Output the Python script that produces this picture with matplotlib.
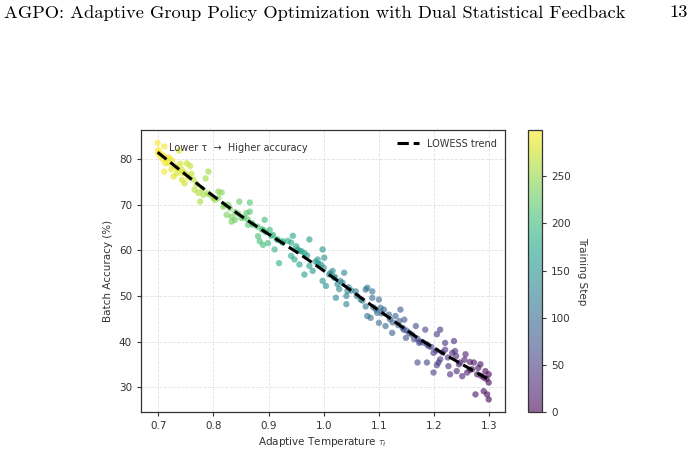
import numpy as np
import matplotlib
matplotlib.use("Agg")
import matplotlib.pyplot as plt

# training step, adaptive temperature tau_t, batch accuracy (%)
step = [0, 1, 1, 2, 2, 3, 5, 5, 7, 8, 10, 11, 12, 14, 15, 17, 17, 20, 21, 22,
        24, 26, 27, 29, 30, 31, 32, 33, 35, 37, 37, 40, 40, 42, 44, 44, 46, 47, 47, 48,
        50, 50, 52, 55, 56, 56, 58, 60, 62, 63, 65, 65, 66, 68, 70, 72, 75, 75, 77, 77,
        78, 80, 81, 82, 85, 87, 88, 90, 91, 94, 95, 97, 98, 100, 100, 101, 102, 105, 106, 106,
        107, 110, 110, 112, 112, 115, 116, 120, 121, 125, 127, 128, 129, 129, 131, 133, 135, 136, 137, 139,
        140, 140, 142, 144, 145, 147, 149, 150, 150, 150, 152, 154, 155, 157, 159, 162, 162, 164, 167, 167,
        169, 171, 171, 173, 174, 176, 177, 179, 179, 182, 186, 187, 190, 191, 192, 194, 195, 197, 198, 200,
        202, 203, 204, 204, 205, 207, 209, 209, 213, 214, 216, 216, 218, 218, 219, 222, 224, 226, 227, 229,
        230, 233, 233, 234, 236, 237, 239, 240, 242, 245, 245, 248, 249, 252, 254, 254, 256, 258, 259, 261,
        263, 264, 266, 267, 269, 270, 272, 273, 275, 275, 277, 278, 278, 279, 280, 282, 282, 284, 285, 287,
        287, 289, 290, 292, 293, 294, 294, 294, 295, 297, 298, 299, 299, 299]

tau = [1.299, 1.299, 1.299, 1.296, 1.295, 1.293, 1.290, 1.290, 1.285, 1.284, 1.280, 1.278, 1.275, 1.272, 1.269, 1.265, 1.265, 1.260, 1.257, 1.255,
       1.251, 1.247, 1.245, 1.241, 1.240, 1.238, 1.236, 1.233, 1.229, 1.226, 1.225, 1.220, 1.220, 1.215, 1.211, 1.211, 1.208, 1.205, 1.205, 1.204,
       1.199, 1.199, 1.195, 1.190, 1.187, 1.187, 1.184, 1.180, 1.175, 1.173, 1.170, 1.170, 1.167, 1.164, 1.160, 1.155, 1.150, 1.149, 1.146, 1.145,
       1.143, 1.139, 1.137, 1.135, 1.130, 1.125, 1.124, 1.120, 1.118, 1.112, 1.109, 1.105, 1.103, 1.100, 1.100, 1.097, 1.095, 1.090, 1.088, 1.088,
       1.085, 1.079, 1.079, 1.076, 1.076, 1.070, 1.067, 1.060, 1.058, 1.050, 1.045, 1.043, 1.041, 1.041, 1.037, 1.034, 1.030, 1.028, 1.025, 1.022,
       1.020, 1.019, 1.016, 1.012, 1.010, 1.004, 1.001, 1.000, 0.998, 0.998, 0.995, 0.990, 0.989, 0.985, 0.980, 0.974, 0.974, 0.970, 0.965, 0.965,
       0.960, 0.956, 0.956, 0.953, 0.950, 0.947, 0.944, 0.941, 0.941, 0.935, 0.926, 0.925, 0.919, 0.917, 0.915, 0.911, 0.908, 0.905, 0.902, 0.899,
       0.895, 0.893, 0.890, 0.890, 0.888, 0.884, 0.881, 0.880, 0.872, 0.870, 0.866, 0.866, 0.863, 0.862, 0.860, 0.855, 0.851, 0.847, 0.845, 0.840,
       0.839, 0.833, 0.833, 0.830, 0.827, 0.824, 0.820, 0.818, 0.815, 0.809, 0.809, 0.803, 0.800, 0.794, 0.791, 0.790, 0.786, 0.782, 0.780, 0.776,
       0.773, 0.770, 0.766, 0.764, 0.760, 0.758, 0.755, 0.752, 0.749, 0.748, 0.745, 0.743, 0.743, 0.740, 0.738, 0.735, 0.734, 0.730, 0.728, 0.725,
       0.724, 0.720, 0.719, 0.715, 0.713, 0.711, 0.711, 0.710, 0.708, 0.705, 0.703, 0.700, 0.700, 0.699]

acc = [27.3, 31.0, 32.8, 28.4, 31.8, 33.5, 29.1, 32.1, 32.5, 35.0, 34.2, 32.8, 28.4, 35.4, 33.9, 33.8, 35.5, 33.2, 37.2, 36.0,
       32.4, 35.4, 35.0, 33.5, 36.8, 37.9, 40.1, 37.5, 32.8, 34.6, 36.5, 39.7, 38.2, 37.6, 36.1, 42.6, 35.4, 41.6, 34.8, 38.0,
       37.5, 33.2, 38.8, 39.0, 35.4, 39.4, 42.6, 39.8, 40.0, 39.7, 35.4, 40.6, 43.4, 40.5, 41.5, 41.9, 42.4, 40.8, 44.8, 42.6,
       43.0, 47.0, 44.5, 43.6, 45.6, 44.2, 41.9, 44.9, 45.9, 43.4, 47.0, 46.2, 47.4, 44.1, 49.2, 46.3, 47.0, 47.5, 49.6, 51.0,
       45.2, 51.8, 45.6, 47.7, 51.4, 49.0, 49.2, 50.0, 51.0, 51.2, 51.9, 51.1, 48.2, 50.0, 55.1, 52.9, 53.3, 51.5, 52.6, 49.6,
       54.2, 54.0, 55.5, 55.0, 54.7, 52.2, 58.4, 56.2, 60.2, 53.3, 56.9, 57.0, 58.0, 57.5, 55.5, 62.4, 56.6, 58.9, 54.7, 59.4,
       59.8, 59.9, 56.9, 60.2, 60.9, 58.0, 63.2, 61.7, 58.8, 62.1, 62.0, 61.7, 57.2, 62.3, 62.4, 60.2, 63.4, 63.2, 64.5, 61.6,
       64.0, 66.7, 64.5, 61.2, 64.6, 62.0, 63.1, 65.2, 65.6, 66.0, 70.5, 68.5, 65.6, 66.8, 68.2, 67.2, 67.1, 70.7, 68.0, 68.4,
       66.7, 67.4, 66.3, 69.2, 70.0, 67.8, 70.0, 69.6, 72.7, 71.5, 72.9, 71.1, 71.5, 72.2, 77.3, 72.5, 75.8, 72.2, 73.5, 70.7,
       72.6, 74.5, 73.3, 75.5, 76.8, 78.5, 76.0, 79.1, 76.9, 74.7, 77.0, 77.7, 75.5, 79.0, 81.9, 78.0, 76.9, 78.5, 76.2, 79.8,
       77.8, 79.2, 80.4, 80.2, 79.1, 77.3, 82.8, 80.7, 80.0, 81.2, 80.8, 81.4, 82.0, 83.6]


def lowess(x, y, frac=0.3, iters=2):
    order = np.argsort(x)
    x = np.asarray(x, float)[order]
    y = np.asarray(y, float)[order]
    n = len(x)
    r = int(np.ceil(frac * n))
    yest = np.zeros(n)
    robust = np.ones(n)
    for _ in range(iters + 1):
        for i in range(n):
            d = np.abs(x - x[i])
            h = max(np.sort(d)[r - 1], 1e-9)
            w = (1 - np.clip(d / h, 0, 1) ** 3) ** 3 * robust
            A = np.vstack([np.ones(n), x - x[i]]).T
            W = np.sqrt(w)
            coef = np.linalg.lstsq(A * W[:, None], y * W, rcond=None)[0]
            yest[i] = coef[0]
        res = y - yest
        s = np.median(np.abs(res))
        u = np.clip(res / (6 * s), -1, 1)
        robust = (1 - u ** 2) ** 2
    return x, yest


TXT = "#333333"
plt.rcParams["font.family"] = "DejaVu Sans"
plt.rcParams["mathtext.fontset"] = "cm"

fig = plt.figure(figsize=(6.95, 4.53), dpi=100)
ax = fig.add_axes([0.203, 0.090, 0.524, 0.623])
cax = fig.add_axes([0.760, 0.090, 0.020, 0.623])

sc = ax.scatter(tau, acc, c=step, cmap="viridis", vmin=0, vmax=299,
                s=21, alpha=0.6, linewidths=0, zorder=2)

lx, ly = lowess(tau, acc)
ax.plot(lx, ly, color="black", linestyle="--", linewidth=2.2,
        label="LOWESS trend", zorder=3)

ax.grid(True, linestyle="--", color="#cccccc", linewidth=0.6, alpha=0.6)
ax.set_axisbelow(True)
ax.set_xticks([0.7, 0.8, 0.9, 1.0, 1.1, 1.2, 1.3])
ax.set_yticks([30, 40, 50, 60, 70, 80])
ax.tick_params(labelsize=7.5, colors=TXT, length=3, width=0.8)
for sp in ax.spines.values():
    sp.set_color("#333333")
    sp.set_linewidth(0.9)

ax.set_xlabel(r"Adaptive Temperature $\tau_t$", fontsize=7.5, color=TXT, labelpad=3)
ax.set_ylabel("Batch Accuracy (%)", fontsize=7.5, color=TXT, labelpad=4)

ax.text(0.077, 0.935, "Lower \u03c4  \u2192  Higher accuracy", transform=ax.transAxes,
        fontsize=7, color=TXT, va="center", ha="left")

leg = ax.legend(loc="upper right", frameon=False, fontsize=7, handlelength=2.2)
for t in leg.get_texts():
    t.set_color(TXT)

cb = fig.colorbar(sc, cax=cax)
cb.solids.set_alpha(0.6)
cb.set_ticks([0, 50, 100, 150, 200, 250])
cb.ax.tick_params(labelsize=7.5, colors=TXT, length=3, width=0.8)
cb.outline.set_edgecolor("#333333")
cb.outline.set_linewidth(0.9)
cb.set_label("Training Step", rotation=270, fontsize=7.5, color=TXT, labelpad=12)

fig.text(0.006, 0.972, "AGPO: Adaptive Group Policy Optimization with Dual Statistical Feedback",
         fontsize=13.3, family="cmr10", va="center", ha="left")
fig.text(0.99, 0.972, "13", fontsize=13.3, family="cmr10", va="center", ha="right")

fig.savefig("out.png", dpi=100)
